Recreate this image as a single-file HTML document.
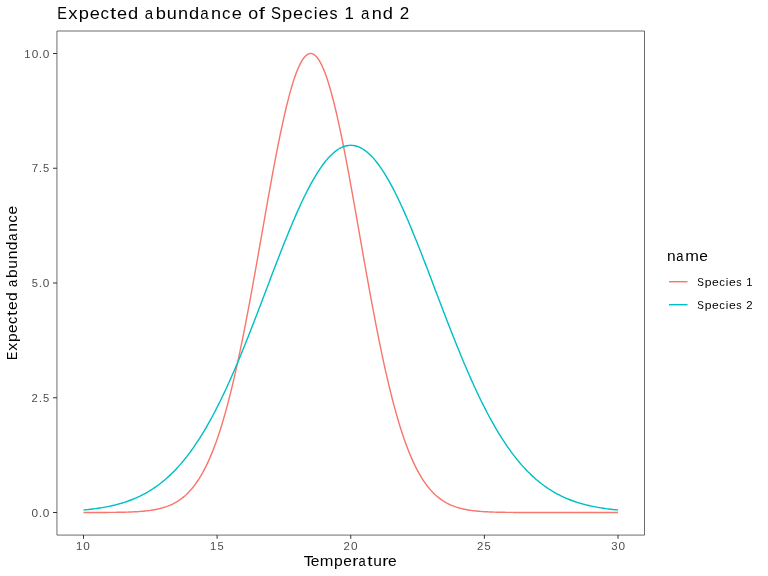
<!DOCTYPE html>
<html><head><meta charset="utf-8"><style>
html,body{margin:0;padding:0;background:#fff;}
svg{display:block;will-change:transform;}
text{font-family:"Liberation Sans",sans-serif;}
</style></head><body>
<svg width="768" height="576" viewBox="0 0 768 576">
<rect width="768" height="576" fill="#fff"/>
<path d="M56.95,31 H644.5 V535.08 H56.95 Z" fill="none" stroke="#333" stroke-width="0.72"/>
<g stroke="#333" stroke-width="1">
<line x1="53" y1="512.50" x2="57" y2="512.50"/>
<line x1="53" y1="397.75" x2="57" y2="397.75"/>
<line x1="53" y1="283.00" x2="57" y2="283.00"/>
<line x1="53" y1="168.25" x2="57" y2="168.25"/>
<line x1="53" y1="53.50" x2="57" y2="53.50"/>
<line x1="83.50" y1="535" x2="83.50" y2="538.8"/>
<line x1="217.12" y1="535" x2="217.12" y2="538.8"/>
<line x1="350.75" y1="535" x2="350.75" y2="538.8"/>
<line x1="484.38" y1="535" x2="484.38" y2="538.8"/>
<line x1="618.00" y1="535" x2="618.00" y2="538.8"/>
</g>
<polyline points="83.50,512.49 84.84,512.49 86.17,512.49 87.51,512.49 88.84,512.48 90.18,512.48 91.52,512.48 92.85,512.48 94.19,512.48 95.53,512.47 96.86,512.47 98.20,512.46 99.53,512.46 100.87,512.45 102.21,512.45 103.54,512.44 104.88,512.44 106.22,512.43 107.55,512.42 108.89,512.41 110.22,512.40 111.56,512.39 112.90,512.37 114.23,512.36 115.57,512.34 116.91,512.32 118.24,512.30 119.58,512.28 120.92,512.26 122.25,512.23 123.59,512.20 124.92,512.17 126.26,512.13 127.60,512.09 128.93,512.05 130.27,512.00 131.61,511.95 132.94,511.89 134.28,511.82 135.61,511.75 136.95,511.68 138.29,511.59 139.62,511.50 140.96,511.40 142.29,511.29 143.63,511.18 144.97,511.05 146.30,510.90 147.64,510.75 148.98,510.59 150.31,510.40 151.65,510.21 152.98,510.00 154.32,509.77 155.66,509.52 156.99,509.25 158.33,508.96 159.67,508.64 161.00,508.30 162.34,507.94 163.68,507.54 165.01,507.12 166.35,506.67 167.68,506.18 169.02,505.65 170.36,505.09 171.69,504.49 173.03,503.84 174.37,503.15 175.70,502.41 177.04,501.62 178.37,500.78 179.71,499.89 181.05,498.93 182.38,497.92 183.72,496.83 185.06,495.69 186.39,494.47 187.73,493.18 189.06,491.81 190.40,490.35 191.74,488.82 193.07,487.20 194.41,485.49 195.74,483.68 197.08,481.77 198.42,479.77 199.75,477.66 201.09,475.44 202.43,473.11 203.76,470.66 205.10,468.10 206.44,465.41 207.77,462.60 209.11,459.65 210.44,456.58 211.78,453.38 213.12,450.03 214.45,446.55 215.79,442.92 217.12,439.15 218.46,435.24 219.80,431.17 221.13,426.96 222.47,422.59 223.81,418.07 225.14,413.40 226.48,408.58 227.81,403.60 229.15,398.47 230.49,393.19 231.82,387.75 233.16,382.17 234.50,376.44 235.83,370.56 237.17,364.54 238.51,358.38 239.84,352.08 241.18,345.65 242.51,339.10 243.85,332.42 245.19,325.62 246.52,318.71 247.86,311.70 249.19,304.58 250.53,297.38 251.87,290.10 253.20,282.73 254.54,275.31 255.88,267.82 257.21,260.29 258.55,252.73 259.89,245.13 261.22,237.52 262.56,229.90 263.89,222.29 265.23,214.70 266.57,207.14 267.90,199.62 269.24,192.16 270.57,184.76 271.91,177.44 273.25,170.22 274.58,163.10 275.92,156.10 277.26,149.23 278.59,142.51 279.93,135.94 281.26,129.55 282.60,123.33 283.94,117.32 285.27,111.51 286.61,105.92 287.95,100.55 289.28,95.44 290.62,90.57 291.96,85.96 293.29,81.63 294.63,77.58 295.96,73.82 297.30,70.36 298.64,67.21 299.97,64.36 301.31,61.84 302.64,59.64 303.98,57.77 305.32,56.24 306.65,55.04 307.99,54.19 309.33,53.67 310.66,53.50 312.00,53.67 313.34,54.19 314.67,55.04 316.01,56.24 317.34,57.77 318.68,59.64 320.02,61.84 321.35,64.36 322.69,67.21 324.02,70.36 325.36,73.82 326.70,77.58 328.03,81.63 329.37,85.96 330.71,90.57 332.04,95.44 333.38,100.55 334.71,105.92 336.05,111.51 337.39,117.32 338.72,123.33 340.06,129.55 341.40,135.94 342.73,142.51 344.07,149.23 345.41,156.10 346.74,163.10 348.08,170.22 349.41,177.44 350.75,184.76 352.09,192.16 353.42,199.62 354.76,207.14 356.09,214.70 357.43,222.29 358.77,229.90 360.10,237.52 361.44,245.13 362.78,252.73 364.11,260.29 365.45,267.82 366.79,275.31 368.12,282.73 369.46,290.10 370.79,297.38 372.13,304.58 373.47,311.70 374.80,318.71 376.14,325.62 377.48,332.42 378.81,339.10 380.15,345.65 381.48,352.08 382.82,358.38 384.16,364.54 385.49,370.56 386.83,376.44 388.16,382.17 389.50,387.75 390.84,393.19 392.17,398.47 393.51,403.60 394.85,408.58 396.18,413.40 397.52,418.07 398.86,422.59 400.19,426.96 401.53,431.17 402.86,435.24 404.20,439.15 405.54,442.92 406.87,446.55 408.21,450.03 409.54,453.38 410.88,456.58 412.22,459.65 413.55,462.60 414.89,465.41 416.23,468.10 417.56,470.66 418.90,473.11 420.24,475.44 421.57,477.66 422.91,479.77 424.24,481.77 425.58,483.68 426.92,485.49 428.25,487.20 429.59,488.82 430.93,490.35 432.26,491.81 433.60,493.18 434.93,494.47 436.27,495.69 437.61,496.83 438.94,497.92 440.28,498.93 441.61,499.89 442.95,500.78 444.29,501.62 445.62,502.41 446.96,503.15 448.30,503.84 449.63,504.49 450.97,505.09 452.31,505.65 453.64,506.18 454.98,506.67 456.31,507.12 457.65,507.54 458.99,507.94 460.32,508.30 461.66,508.64 463.00,508.96 464.33,509.25 465.67,509.52 467.00,509.77 468.34,510.00 469.68,510.21 471.01,510.40 472.35,510.59 473.69,510.75 475.02,510.90 476.36,511.05 477.69,511.18 479.03,511.29 480.37,511.40 481.70,511.50 483.04,511.59 484.38,511.68 485.71,511.75 487.05,511.82 488.38,511.89 489.72,511.95 491.06,512.00 492.39,512.05 493.73,512.09 495.06,512.13 496.40,512.17 497.74,512.20 499.07,512.23 500.41,512.26 501.75,512.28 503.08,512.30 504.42,512.32 505.75,512.34 507.09,512.36 508.43,512.37 509.76,512.39 511.10,512.40 512.44,512.41 513.77,512.42 515.11,512.43 516.44,512.44 517.78,512.44 519.12,512.45 520.45,512.45 521.79,512.46 523.13,512.46 524.46,512.47 525.80,512.47 527.13,512.48 528.47,512.48 529.81,512.48 531.14,512.48 532.48,512.48 533.82,512.49 535.15,512.49 536.49,512.49 537.83,512.49 539.16,512.49 540.50,512.49 541.83,512.49 543.17,512.49 544.51,512.50 545.84,512.50 547.18,512.50 548.51,512.50 549.85,512.50 551.19,512.50 552.52,512.50 553.86,512.50 555.20,512.50 556.53,512.50 557.87,512.50 559.21,512.50 560.54,512.50 561.88,512.50 563.21,512.50 564.55,512.50 565.89,512.50 567.22,512.50 568.56,512.50 569.89,512.50 571.23,512.50 572.57,512.50 573.90,512.50 575.24,512.50 576.58,512.50 577.91,512.50 579.25,512.50 580.59,512.50 581.92,512.50 583.26,512.50 584.59,512.50 585.93,512.50 587.27,512.50 588.60,512.50 589.94,512.50 591.27,512.50 592.61,512.50 593.95,512.50 595.28,512.50 596.62,512.50 597.96,512.50 599.29,512.50 600.63,512.50 601.96,512.50 603.30,512.50 604.64,512.50 605.97,512.50 607.31,512.50 608.65,512.50 609.98,512.50 611.32,512.50 612.65,512.50 613.99,512.50 615.33,512.50 616.66,512.50 618.00,512.50" fill="none" stroke="#F8766D" stroke-width="1.42" stroke-linejoin="round"/>
<polyline points="83.50,510.03 84.84,509.90 86.17,509.77 87.51,509.63 88.84,509.48 90.18,509.33 91.52,509.18 92.85,509.01 94.19,508.84 95.53,508.66 96.86,508.47 98.20,508.28 99.53,508.07 100.87,507.86 102.21,507.64 103.54,507.41 104.88,507.17 106.22,506.92 107.55,506.66 108.89,506.38 110.22,506.10 111.56,505.81 112.90,505.50 114.23,505.19 115.57,504.86 116.91,504.51 118.24,504.16 119.58,503.79 120.92,503.40 122.25,503.00 123.59,502.59 124.92,502.16 126.26,501.72 127.60,501.26 128.93,500.78 130.27,500.28 131.61,499.77 132.94,499.24 134.28,498.69 135.61,498.12 136.95,497.53 138.29,496.92 139.62,496.29 140.96,495.64 142.29,494.97 143.63,494.28 144.97,493.56 146.30,492.82 147.64,492.05 148.98,491.26 150.31,490.45 151.65,489.61 152.98,488.74 154.32,487.85 155.66,486.93 156.99,485.98 158.33,485.01 159.67,484.00 161.00,482.97 162.34,481.91 163.68,480.81 165.01,479.69 166.35,478.53 167.68,477.34 169.02,476.12 170.36,474.87 171.69,473.58 173.03,472.26 174.37,470.91 175.70,469.52 177.04,468.09 178.37,466.63 179.71,465.13 181.05,463.60 182.38,462.03 183.72,460.42 185.06,458.77 186.39,457.09 187.73,455.37 189.06,453.60 190.40,451.80 191.74,449.96 193.07,448.08 194.41,446.16 195.74,444.20 197.08,442.20 198.42,440.16 199.75,438.08 201.09,435.95 202.43,433.79 203.76,431.58 205.10,429.34 206.44,427.05 207.77,424.72 209.11,422.36 210.44,419.95 211.78,417.50 213.12,415.01 214.45,412.48 215.79,409.91 217.12,407.30 218.46,404.65 219.80,401.96 221.13,399.23 222.47,396.46 223.81,393.66 225.14,390.82 226.48,387.94 227.81,385.03 229.15,382.08 230.49,379.09 231.82,376.07 233.16,373.02 234.50,369.94 235.83,366.82 237.17,363.67 238.51,360.50 239.84,357.29 241.18,354.06 242.51,350.79 243.85,347.51 245.19,344.19 246.52,340.86 247.86,337.50 249.19,334.12 250.53,330.72 251.87,327.31 253.20,323.87 254.54,320.42 255.88,316.96 257.21,313.48 258.55,309.99 259.89,306.49 261.22,302.99 262.56,299.48 263.89,295.96 265.23,292.44 266.57,288.92 267.90,285.40 269.24,281.88 270.57,278.36 271.91,274.85 273.25,271.35 274.58,267.86 275.92,264.38 277.26,260.91 278.59,257.46 279.93,254.03 281.26,250.61 282.60,247.22 283.94,243.85 285.27,240.51 286.61,237.19 287.95,233.90 289.28,230.64 290.62,227.42 291.96,224.23 293.29,221.08 294.63,217.96 295.96,214.89 297.30,211.86 298.64,208.88 299.97,205.94 301.31,203.05 302.64,200.22 303.98,197.43 305.32,194.70 306.65,192.03 307.99,189.42 309.33,186.86 310.66,184.37 312.00,181.94 313.34,179.58 314.67,177.28 316.01,175.05 317.34,172.90 318.68,170.81 320.02,168.80 321.35,166.86 322.69,164.99 324.02,163.21 325.36,161.50 326.70,159.87 328.03,158.33 329.37,156.86 330.71,155.48 332.04,154.19 333.38,152.98 334.71,151.85 336.05,150.81 337.39,149.86 338.72,149.00 340.06,148.23 341.40,147.54 342.73,146.95 344.07,146.45 345.41,146.03 346.74,145.71 348.08,145.48 349.41,145.35 350.75,145.30 352.09,145.35 353.42,145.48 354.76,145.71 356.09,146.03 357.43,146.45 358.77,146.95 360.10,147.54 361.44,148.23 362.78,149.00 364.11,149.86 365.45,150.81 366.79,151.85 368.12,152.98 369.46,154.19 370.79,155.48 372.13,156.86 373.47,158.33 374.80,159.87 376.14,161.50 377.48,163.21 378.81,164.99 380.15,166.86 381.48,168.80 382.82,170.81 384.16,172.90 385.49,175.05 386.83,177.28 388.16,179.58 389.50,181.94 390.84,184.37 392.17,186.86 393.51,189.42 394.85,192.03 396.18,194.70 397.52,197.43 398.86,200.22 400.19,203.05 401.53,205.94 402.86,208.88 404.20,211.86 405.54,214.89 406.87,217.96 408.21,221.08 409.54,224.23 410.88,227.42 412.22,230.64 413.55,233.90 414.89,237.19 416.23,240.51 417.56,243.85 418.90,247.22 420.24,250.61 421.57,254.03 422.91,257.46 424.24,260.91 425.58,264.38 426.92,267.86 428.25,271.35 429.59,274.85 430.93,278.36 432.26,281.88 433.60,285.40 434.93,288.92 436.27,292.44 437.61,295.96 438.94,299.48 440.28,302.99 441.61,306.49 442.95,309.99 444.29,313.48 445.62,316.96 446.96,320.42 448.30,323.87 449.63,327.31 450.97,330.72 452.31,334.12 453.64,337.50 454.98,340.86 456.31,344.19 457.65,347.51 458.99,350.79 460.32,354.06 461.66,357.29 463.00,360.50 464.33,363.67 465.67,366.82 467.00,369.94 468.34,373.02 469.68,376.07 471.01,379.09 472.35,382.08 473.69,385.03 475.02,387.94 476.36,390.82 477.69,393.66 479.03,396.46 480.37,399.23 481.70,401.96 483.04,404.65 484.38,407.30 485.71,409.91 487.05,412.48 488.38,415.01 489.72,417.50 491.06,419.95 492.39,422.36 493.73,424.72 495.06,427.05 496.40,429.34 497.74,431.58 499.07,433.79 500.41,435.95 501.75,438.08 503.08,440.16 504.42,442.20 505.75,444.20 507.09,446.16 508.43,448.08 509.76,449.96 511.10,451.80 512.44,453.60 513.77,455.37 515.11,457.09 516.44,458.77 517.78,460.42 519.12,462.03 520.45,463.60 521.79,465.13 523.13,466.63 524.46,468.09 525.80,469.52 527.13,470.91 528.47,472.26 529.81,473.58 531.14,474.87 532.48,476.12 533.82,477.34 535.15,478.53 536.49,479.69 537.83,480.81 539.16,481.91 540.50,482.97 541.83,484.00 543.17,485.01 544.51,485.98 545.84,486.93 547.18,487.85 548.51,488.74 549.85,489.61 551.19,490.45 552.52,491.26 553.86,492.05 555.20,492.82 556.53,493.56 557.87,494.28 559.21,494.97 560.54,495.64 561.88,496.29 563.21,496.92 564.55,497.53 565.89,498.12 567.22,498.69 568.56,499.24 569.89,499.77 571.23,500.28 572.57,500.78 573.90,501.26 575.24,501.72 576.58,502.16 577.91,502.59 579.25,503.00 580.59,503.40 581.92,503.79 583.26,504.16 584.59,504.51 585.93,504.86 587.27,505.19 588.60,505.50 589.94,505.81 591.27,506.10 592.61,506.38 593.95,506.66 595.28,506.92 596.62,507.17 597.96,507.41 599.29,507.64 600.63,507.86 601.96,508.07 603.30,508.28 604.64,508.47 605.97,508.66 607.31,508.84 608.65,509.01 609.98,509.18 611.32,509.33 612.65,509.48 613.99,509.63 615.33,509.77 616.66,509.90 618.00,510.03" fill="none" stroke="#00BFC4" stroke-width="1.42" stroke-linejoin="round"/>
<line x1="669" y1="281.7" x2="687.5" y2="281.7" stroke="#F8766D" stroke-width="1.42"/>
<line x1="669" y1="304.7" x2="687.5" y2="304.7" stroke="#00BFC4" stroke-width="1.42"/>
<g font-size="17.2" fill="#000"><text transform="translate(62.39,19) scale(0.847,1)" x="-6.07">E</text><text transform="translate(72.83,19) scale(1.083,1)" x="-4.30">x</text><text transform="translate(83.97,19) scale(1.063,1)" x="-4.98">p</text><text transform="translate(94.67,19) scale(1.055,1)" x="-4.77">e</text><text transform="translate(104.85,19) scale(0.980,1)" x="-4.44">c</text><text transform="translate(113.22,19) scale(1.300,1)" x="-2.46">t</text><text transform="translate(122.08,19) scale(1.055,1)" x="-4.77">e</text><text transform="translate(132.75,19) scale(1.062,1)" x="-4.59">d</text><text transform="translate(149.36,19) scale(0.878,1)" x="-5.15">a</text><text transform="translate(160.93,19) scale(1.063,1)" x="-4.98">b</text><text transform="translate(171.72,19) scale(1.053,1)" x="-4.77">u</text><text transform="translate(182.98,19) scale(1.053,1)" x="-4.80">n</text><text transform="translate(193.78,19) scale(1.062,1)" x="-4.59">d</text><text transform="translate(204.80,19) scale(0.878,1)" x="-5.15">a</text><text transform="translate(216.09,19) scale(1.053,1)" x="-4.80">n</text><text transform="translate(226.40,19) scale(0.980,1)" x="-4.44">c</text><text transform="translate(236.73,19) scale(1.055,1)" x="-4.77">e</text><text transform="translate(253.11,19) scale(1.038,1)" x="-4.78">o</text><text transform="translate(261.95,19) scale(1.283,1)" x="-2.52">f</text><text transform="translate(275.95,19) scale(0.871,1)" x="-5.73">S</text><text transform="translate(287.35,19) scale(1.063,1)" x="-4.98">p</text><text transform="translate(298.05,19) scale(1.055,1)" x="-4.77">e</text><text transform="translate(308.23,19) scale(0.980,1)" x="-4.44">c</text><text transform="translate(315.57,19) scale(0.998,1)" x="-1.91">i</text><text transform="translate(323.45,19) scale(1.055,1)" x="-4.77">e</text><text transform="translate(333.47,19) scale(0.936,1)" x="-4.23">s</text><text transform="translate(349.36,19) scale(0.983,1)" x="-5.02">1</text><text transform="translate(365.52,19) scale(0.878,1)" x="-5.15">a</text><text transform="translate(376.81,19) scale(1.053,1)" x="-4.80">n</text><text transform="translate(387.61,19) scale(1.062,1)" x="-4.59">d</text><text transform="translate(404.47,19) scale(0.992,1)" x="-4.78">2</text></g>
<g font-size="11.66" fill="#4d4d4d"><text transform="translate(34.88,517) scale(1.013,1)" x="-3.24">0</text><text transform="translate(40.47,517) scale(1.039,1)" x="-1.62">.</text><text transform="translate(46.07,517) scale(1.013,1)" x="-3.24">0</text></g>
<g font-size="11.66" fill="#4d4d4d"><text transform="translate(34.73,402) scale(0.976,1)" x="-3.24">2</text><text transform="translate(40.48,402) scale(1.039,1)" x="-1.62">.</text><text transform="translate(46.02,402) scale(0.956,1)" x="-3.23">5</text></g>
<g font-size="11.66" fill="#4d4d4d"><text transform="translate(34.78,287) scale(0.956,1)" x="-3.23">5</text><text transform="translate(40.43,287) scale(1.039,1)" x="-1.62">.</text><text transform="translate(46.03,287) scale(1.013,1)" x="-3.24">0</text></g>
<g font-size="11.66" fill="#4d4d4d"><text transform="translate(34.92,172) scale(0.990,1)" x="-3.25">7</text><text transform="translate(40.53,172) scale(1.039,1)" x="-1.62">.</text><text transform="translate(46.07,172) scale(0.956,1)" x="-3.23">5</text></g>
<g font-size="11.66" fill="#4d4d4d"><text transform="translate(27.57,58) scale(0.967,1)" x="-3.40">1</text><text transform="translate(34.93,58) scale(1.013,1)" x="-3.24">0</text><text transform="translate(40.52,58) scale(1.039,1)" x="-1.62">.</text><text transform="translate(46.12,58) scale(1.013,1)" x="-3.24">0</text></g>
<g font-size="11.66" fill="#4d4d4d"><text transform="translate(79.17,550) scale(0.967,1)" x="-3.40">1</text><text transform="translate(86.52,550) scale(1.013,1)" x="-3.24">0</text></g>
<g font-size="11.66" fill="#4d4d4d"><text transform="translate(213.29,550) scale(0.967,1)" x="-3.40">1</text><text transform="translate(220.59,550) scale(0.956,1)" x="-3.23">5</text></g>
<g font-size="11.66" fill="#4d4d4d"><text transform="translate(346.60,550) scale(0.976,1)" x="-3.24">2</text><text transform="translate(354.21,550) scale(1.013,1)" x="-3.24">0</text></g>
<g font-size="11.66" fill="#4d4d4d"><text transform="translate(480.14,550) scale(0.976,1)" x="-3.24">2</text><text transform="translate(487.70,550) scale(0.956,1)" x="-3.23">5</text></g>
<g font-size="11.66" fill="#4d4d4d"><text transform="translate(614.24,550) scale(0.972,1)" x="-3.21">3</text><text transform="translate(621.72,550) scale(1.013,1)" x="-3.24">0</text></g>
<g font-size="14.57" fill="#000"><text transform="translate(308.43,566) scale(1.078,1)" x="-4.45">T</text><text transform="translate(314.94,566) scale(1.068,1)" x="-4.04">e</text><text transform="translate(326.63,566) scale(1.126,1)" x="-6.07">m</text><text transform="translate(338.65,566) scale(1.075,1)" x="-4.22">p</text><text transform="translate(347.57,566) scale(1.068,1)" x="-4.04">e</text><text transform="translate(355.75,566) scale(1.266,1)" x="-2.79">r</text><text transform="translate(362.37,566) scale(0.889,1)" x="-4.36">a</text><text transform="translate(369.99,566) scale(1.300,1)" x="-2.08">t</text><text transform="translate(377.45,566) scale(1.066,1)" x="-4.04">u</text><text transform="translate(385.82,566) scale(1.266,1)" x="-2.79">r</text><text transform="translate(392.38,566) scale(1.068,1)" x="-4.04">e</text></g>
<g font-size="14.57" fill="#000"><text transform="translate(17,355.54) rotate(-90) scale(0.857,1)" x="-5.14">E</text><text transform="translate(17,346.85) rotate(-90) scale(1.096,1)" x="-3.65">x</text><text transform="translate(17,337.55) rotate(-90) scale(1.075,1)" x="-4.22">p</text><text transform="translate(17,328.64) rotate(-90) scale(1.068,1)" x="-4.04">e</text><text transform="translate(17,320.16) rotate(-90) scale(0.992,1)" x="-3.76">c</text><text transform="translate(17,313.18) rotate(-90) scale(1.300,1)" x="-2.08">t</text><text transform="translate(17,305.79) rotate(-90) scale(1.068,1)" x="-4.04">e</text><text transform="translate(17,296.90) rotate(-90) scale(1.074,1)" x="-3.89">d</text><text transform="translate(17,283.05) rotate(-90) scale(0.889,1)" x="-4.36">a</text><text transform="translate(17,273.41) rotate(-90) scale(1.075,1)" x="-4.22">b</text><text transform="translate(17,264.41) rotate(-90) scale(1.066,1)" x="-4.04">u</text><text transform="translate(17,255.03) rotate(-90) scale(1.066,1)" x="-4.06">n</text><text transform="translate(17,246.03) rotate(-90) scale(1.074,1)" x="-3.89">d</text><text transform="translate(17,236.84) rotate(-90) scale(0.889,1)" x="-4.36">a</text><text transform="translate(17,227.43) rotate(-90) scale(1.066,1)" x="-4.06">n</text><text transform="translate(17,218.84) rotate(-90) scale(0.992,1)" x="-3.76">c</text><text transform="translate(17,210.23) rotate(-90) scale(1.068,1)" x="-4.04">e</text></g>
<g font-size="14.57" fill="#000"><text transform="translate(671.26,261) scale(1.066,1)" x="-4.06">n</text><text transform="translate(680.14,261) scale(0.889,1)" x="-4.36">a</text><text transform="translate(692.05,261) scale(1.126,1)" x="-6.07">m</text><text transform="translate(703.68,261) scale(1.068,1)" x="-4.04">e</text></g>
<g font-size="11.66" fill="#000"><text transform="translate(700.62,286) scale(0.856,1)" x="-3.89">S</text><text transform="translate(708.22,286) scale(1.045,1)" x="-3.37">p</text><text transform="translate(715.35,286) scale(1.038,1)" x="-3.23">e</text><text transform="translate(722.13,286) scale(0.964,1)" x="-3.01">c</text><text transform="translate(727.03,286) scale(0.982,1)" x="-1.29">i</text><text transform="translate(732.27,286) scale(1.038,1)" x="-3.23">e</text><text transform="translate(738.96,286) scale(0.921,1)" x="-2.87">s</text><text transform="translate(749.54,286) scale(0.967,1)" x="-3.40">1</text></g>
<g font-size="11.66" fill="#000"><text transform="translate(700.67,309) scale(0.856,1)" x="-3.89">S</text><text transform="translate(708.26,309) scale(1.045,1)" x="-3.37">p</text><text transform="translate(715.39,309) scale(1.038,1)" x="-3.23">e</text><text transform="translate(722.18,309) scale(0.964,1)" x="-3.01">c</text><text transform="translate(727.07,309) scale(0.982,1)" x="-1.29">i</text><text transform="translate(732.32,309) scale(1.038,1)" x="-3.23">e</text><text transform="translate(739.00,309) scale(0.921,1)" x="-2.87">s</text><text transform="translate(749.33,309) scale(0.976,1)" x="-3.24">2</text></g>
</svg>
</body></html>
